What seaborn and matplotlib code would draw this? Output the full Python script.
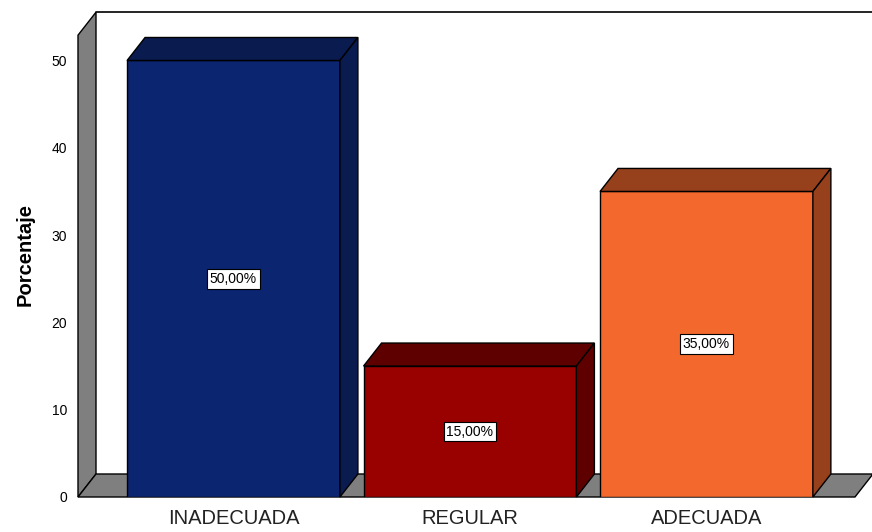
import numpy as np
import pandas as pd
import seaborn as sns
import matplotlib.pyplot as plt
from matplotlib.patches import Polygon

# datos del grafico
categorias = ['INADECUADA', 'REGULAR', 'ADECUADA']
porcentajes = [50.0, 15.0, 35.0]
colores = ['#0B2570', '#990000', '#F3692D']
colores_sombra = ['#0A1B4F', '#5E0000', '#96401C']
ticks_y = [0, 10, 20, 30, 40, 50]

sns.set_style('white')
plt.rcParams['font.family'] = ['Liberation Sans', 'DejaVu Sans']
plt.rcParams['text.color'] = 'black'
plt.rcParams['axes.labelcolor'] = 'black'
plt.rcParams['xtick.color'] = 'black'
plt.rcParams['ytick.color'] = 'black'

fig = plt.figure(figsize=(8.72, 5.32), dpi=100)
ax = fig.add_axes([78/872, 35/532, (872-78)/872, (497-13)/532])

df = pd.DataFrame({'cat': categorias, 'pct': porcentajes})
sns.barplot(data=df, x='cat', y='pct', hue='cat', palette=colores, order=categorias,
            saturation=1, width=0.9, edgecolor='black', linewidth=1, legend=False,
            ax=ax, zorder=3)
bars = list(ax.patches)

# profundidad del efecto 3D (en unidades de datos)
dx = 18/236.5
dy = 23/8.73
xl, xr = -0.6575, 2.628
top = 52.9

# paredes y piso
ax.add_patch(Polygon([(xl, 0), (xl, top), (xl+dx, top+dy), (xl+dx, dy)],
                     facecolor='#7f7f7f', edgecolor='black', lw=1, zorder=1, clip_on=False))
ax.add_patch(Polygon([(xl, 0), (xr, 0), (xr+dx, dy), (xl+dx, dy)],
                     facecolor='#7f7f7f', edgecolor='black', lw=1, zorder=1, clip_on=False))
ax.plot([xl+dx, xr+dx+0.1], [top+dy, top+dy], color='black', lw=1.2, zorder=1, clip_on=False)

for p, c in zip(bars, colores_sombra):
    x0, w, h = p.get_x(), p.get_width(), p.get_height()
    ax.add_patch(Polygon([(x0, h), (x0+dx, h+dy), (x0+w+dx, h+dy), (x0+w, h)],
                         facecolor=c, edgecolor='black', lw=1, zorder=3, clip_on=False))
    ax.add_patch(Polygon([(x0+w, 0), (x0+w+dx, dy), (x0+w+dx, h+dy), (x0+w, h)],
                         facecolor=c, edgecolor='black', lw=1, zorder=3, clip_on=False))
    etiqueta = f'{h:.2f}%'.replace('.', ',')
    ax.text(x0 + w/2, h/2, etiqueta, ha='center', va='center', fontsize=10, zorder=5,
            bbox=dict(facecolor='white', edgecolor='black', boxstyle='square,pad=0.2', lw=0.8))

ax.set_xlim(xl, 2.700)
ax.set_ylim(0, 55.44)
ax.set_yticks(ticks_y)
ax.set_yticklabels([str(t) for t in ticks_y], fontsize=10)
ax.tick_params(axis='y', length=0, pad=8)
ax.tick_params(axis='x', length=0, pad=9, labelsize=14.5, labelcolor='#222222')
for s in ax.spines.values():
    s.set_visible(False)
ax.set_xlabel('')
ax.set_ylabel('Porcentaje', fontsize=14.5, fontweight='bold', labelpad=12)

fig.savefig('out.png', dpi=100)
